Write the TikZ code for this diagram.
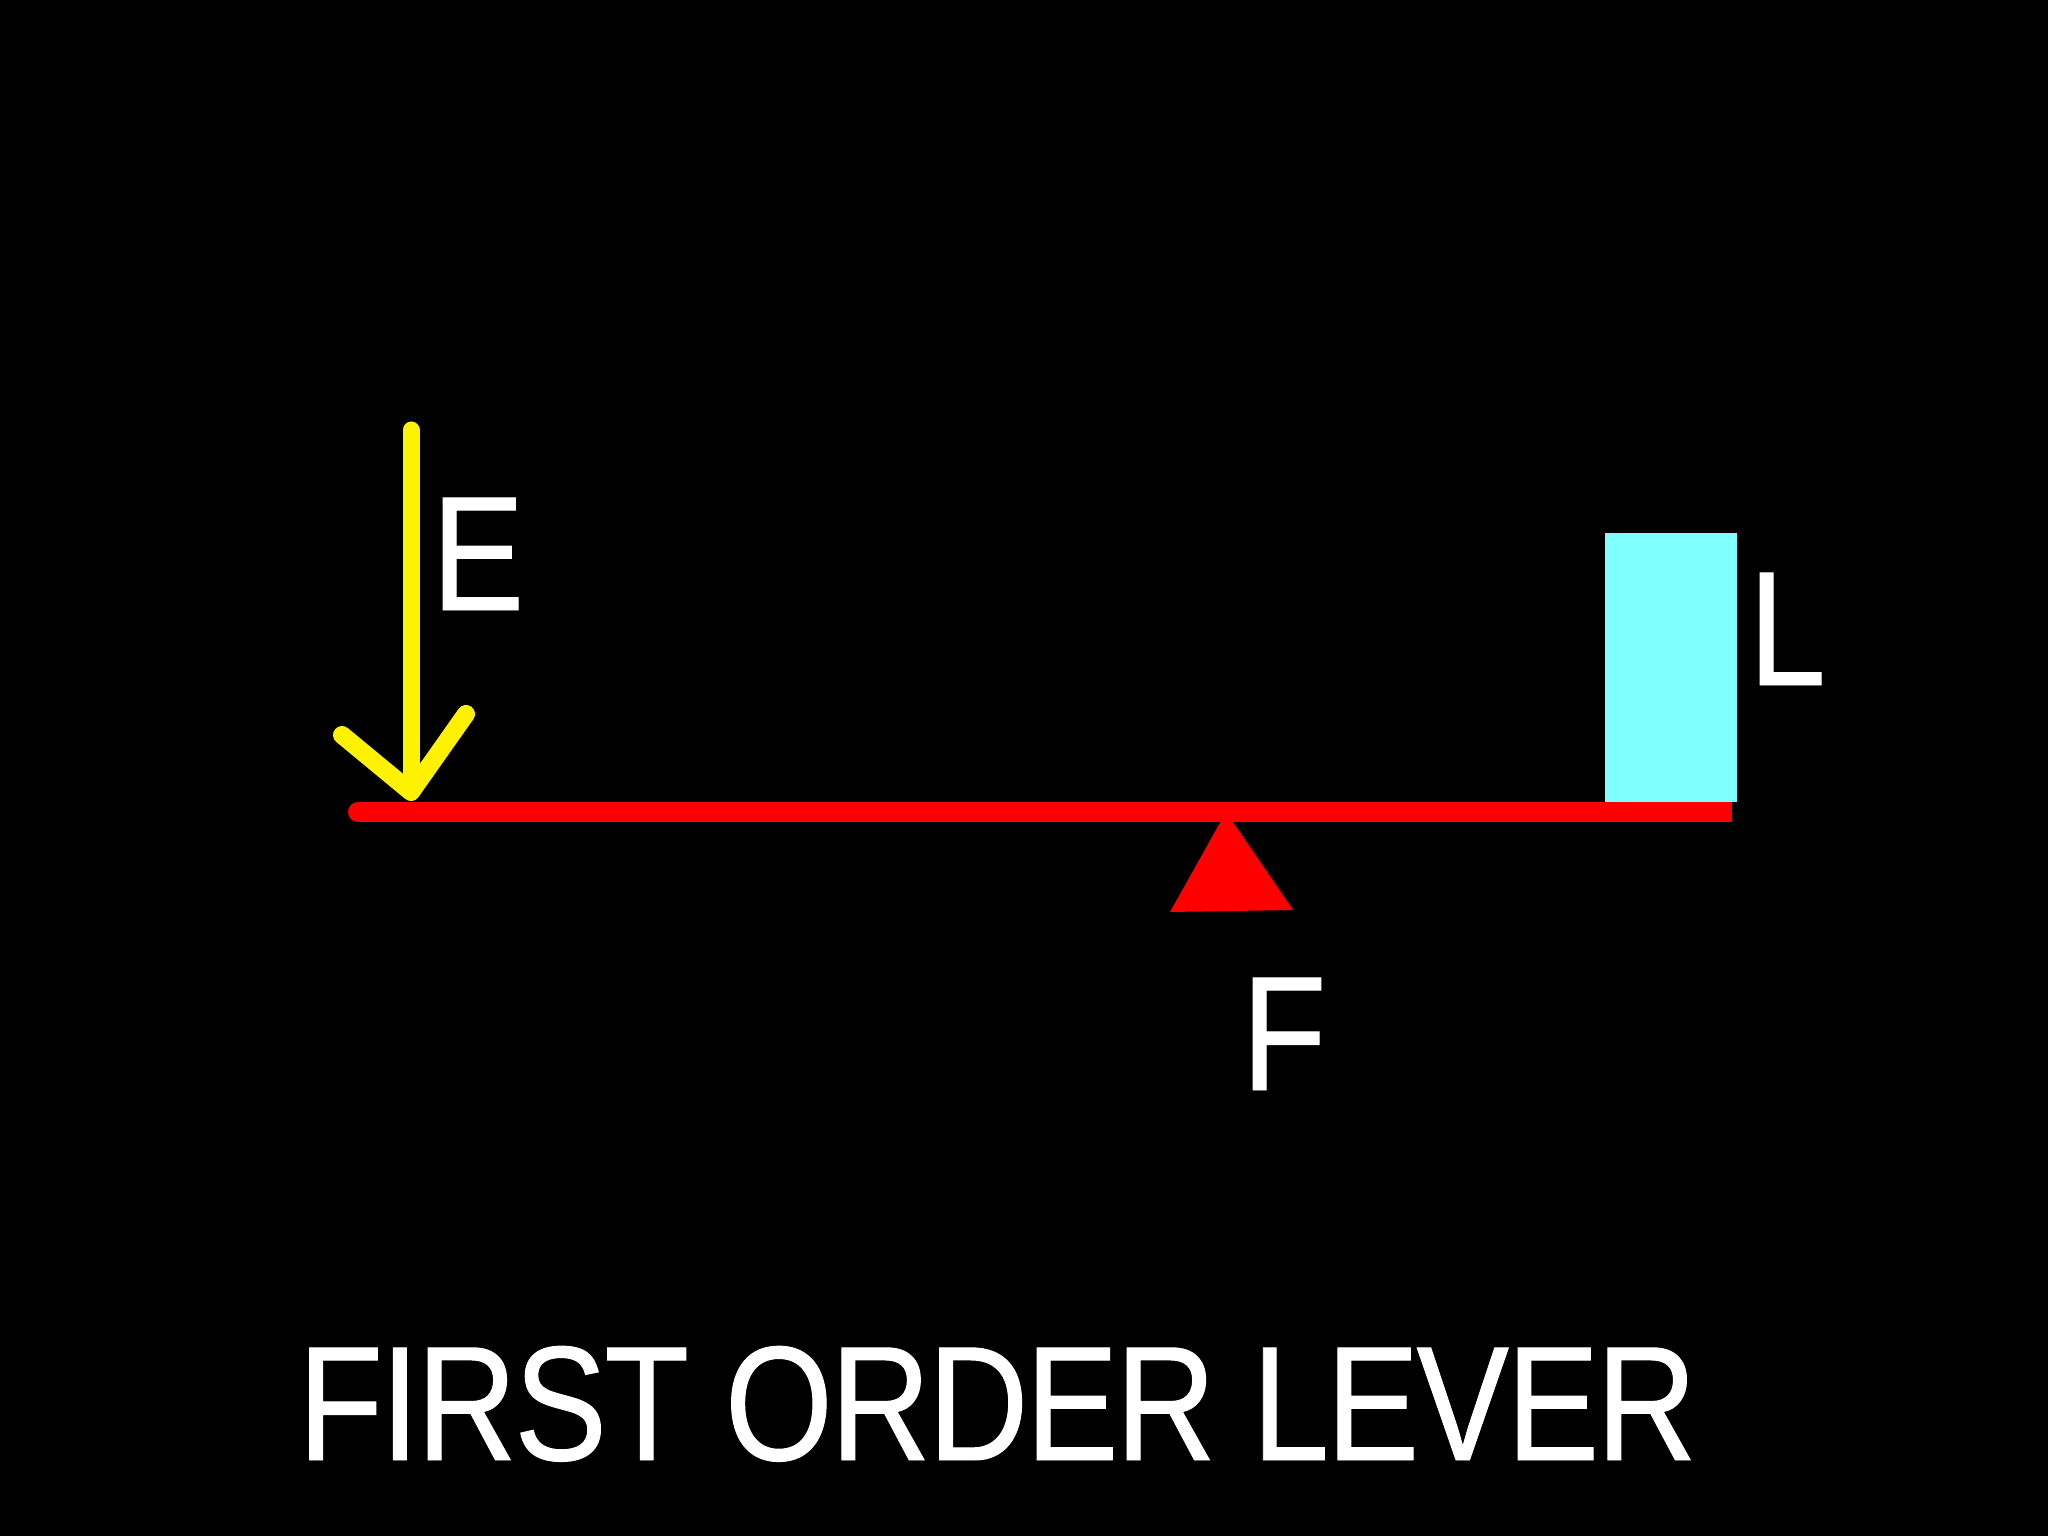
\documentclass[tikz,border=0pt]{standalone}
\usepackage{fontspec}
\newfontfamily\leverfont[FakeStretch=0.85,FakeBold=0.6]{Liberation Sans}
\newfontfamily\titlefont[FakeStretch=0.85,FakeBold=0.6,LetterSpace=-1.5]{Liberation Sans}
\definecolor{loadcyan}{RGB}{128,255,255}
\tikzset{
    letter/.style={text=white, inner sep=0pt, anchor=base west, font=\leverfont\fontsize{46.4}{50}\selectfont},
    effort/.style={yellow, line width=0.17cm, line cap=round},
}
\begin{document}
\begin{tikzpicture}
        % background
        \fill [black] (0,0) rectangle (20.48,-15.36);
        \useasboundingbox (0,0) rectangle (20.48,-15.36);
        % load
        \fill [loadcyan] (16.05,-5.33) rectangle (17.37,-8.02);
        % beam
        \coordinate (left) at (3.58,-8.12);\coordinate (right) at (17.32,-8.12);
        \draw [red, line width=0.2cm] (left) -- (right);
        \fill [red] (left) circle (0.1);
        % fulcrum
        \fill [red] (12.26,-8.12) -- (11.70,-9.12) -- (12.93,-9.10) -- cycle;
        % effort arrow
        \coordinate (etop) at (4.11,-4.30);\coordinate (etip) at (4.11,-7.92);
        \coordinate (armleft) at (3.42,-7.35);\coordinate (armright) at (4.66,-7.14);
        \draw [effort] (etop) -- (etip);
        \draw [effort, line width=0.18cm, line join=round] (armleft) -- (etip) -- (armright);
        % lecter
        \node [letter] (E) at (4.31,-6.10) {E};
        \node [letter] (L) at (17.48,-6.85) {L};
        \node [letter] (F) at (12.41,-10.90) {F};
        \node [letter, anchor=base, font=\titlefont\fontsize{46.4}{50}\selectfont] (title) at (9.975,-14.60) {FIRST ORDER LEVER};
    \end{tikzpicture}
\end{document}
